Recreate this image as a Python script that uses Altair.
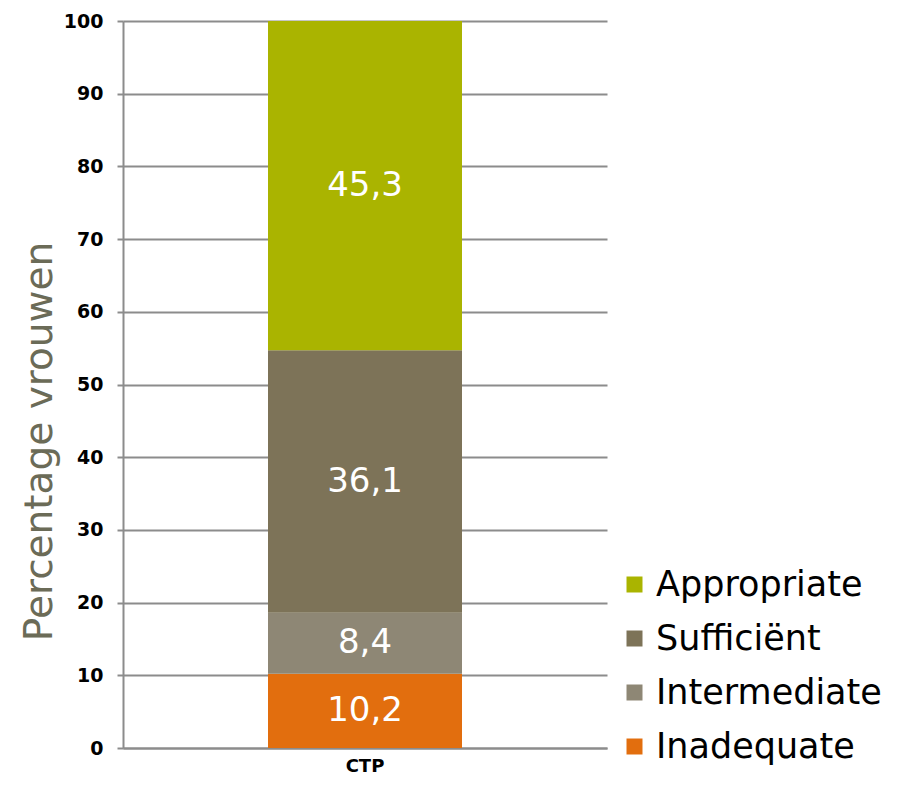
import altair as alt
import pandas as pd

groups = ["CTP", "CTP", "CTP", "CTP"]
categories = ["Inadequate", "Intermediate", "Sufficiënt", "Appropriate"]
values = [10.2, 8.4, 36.1, 45.3]
value_labels = ["10,2", "8,4", "36,1", "45,3"]
stack_order = [0, 1, 2, 3]
legend_order = ["Appropriate", "Sufficiënt", "Intermediate", "Inadequate"]
legend_colors = ["#AAB400", "#7D7358", "#8E8775", "#E26E0E"]
y_ticks = [0, 10, 20, 30, 40, 50, 60, 70, 80, 90, 100]

df = pd.DataFrame({
    "group": groups,
    "category": categories,
    "value": values,
    "label": value_labels,
    "order": stack_order,
})

grid_color = "#8C8C8C"

x_enc = alt.X(
    "group:N",
    title=None,
    axis=alt.Axis(
        labelAngle=0, labelFont="DejaVu Sans", labelFontWeight="bold",
        labelFontSize=18, labelColor="#000000", ticks=False, labelPadding=9,
        domainColor=grid_color, domainWidth=2,
    ),
)

bars = alt.Chart(df).mark_bar(size=194).encode(
    x=x_enc,
    y=alt.Y(
        "value:Q",
        stack="zero",
        scale=alt.Scale(domain=[0, 100], nice=False),
        axis=alt.Axis(
            values=y_ticks, title="Percentage vrouwen",
            titleFont="DejaVu Sans", titleFontSize=39, titleFontWeight="normal",
            titleColor="#6B6B57", titleAngle=-90, titleAlign="center",
            titleBaseline="middle", titleX=-84, titleY=420,
            labelFont="DejaVu Sans", labelFontWeight="bold", labelFontSize=19,
            labelColor="#000000", labelPadding=14,
            tickSize=6, tickColor=grid_color, tickWidth=2,
            domainColor=grid_color, domainWidth=2,
            grid=True, gridColor=grid_color, gridWidth=2,
        ),
    ),
    color=alt.Color(
        "category:N",
        scale=alt.Scale(domain=legend_order, range=legend_colors),
        legend=alt.Legend(
            title=None, orient="none", legendX=494, legendY=546,
            symbolType="square", symbolSize=256, symbolStrokeWidth=0,
            labelFont="DejaVu Sans", labelFontSize=35, labelColor="#000000",
            rowPadding=18, labelOffset=4, labelLimit=0,
        ),
    ),
    order=alt.Order("order:Q", sort="ascending"),
)

text = alt.Chart(df).transform_stack(
    stack="value", groupby=["group"], as_=["v0", "v1"],
    sort=[alt.SortField("order", order="ascending")],
).transform_calculate(
    mid="(datum.v0 + datum.v1) / 2"
).mark_text(
    color="white", font="DejaVu Sans", fontSize=34, baseline="middle"
).encode(
    x=alt.X("group:N"),
    y=alt.Y("mid:Q"),
    text="label:N",
)

chart = alt.layer(bars, text).properties(
    width=484, height=727,
    autosize=alt.AutoSizeParams(type="none"),
    padding={"left": 115, "top": 13, "right": 280, "bottom": 31},
).configure_view(stroke=None)

chart.save("out.html", embed_options={"renderer": "svg", "actions": False})
